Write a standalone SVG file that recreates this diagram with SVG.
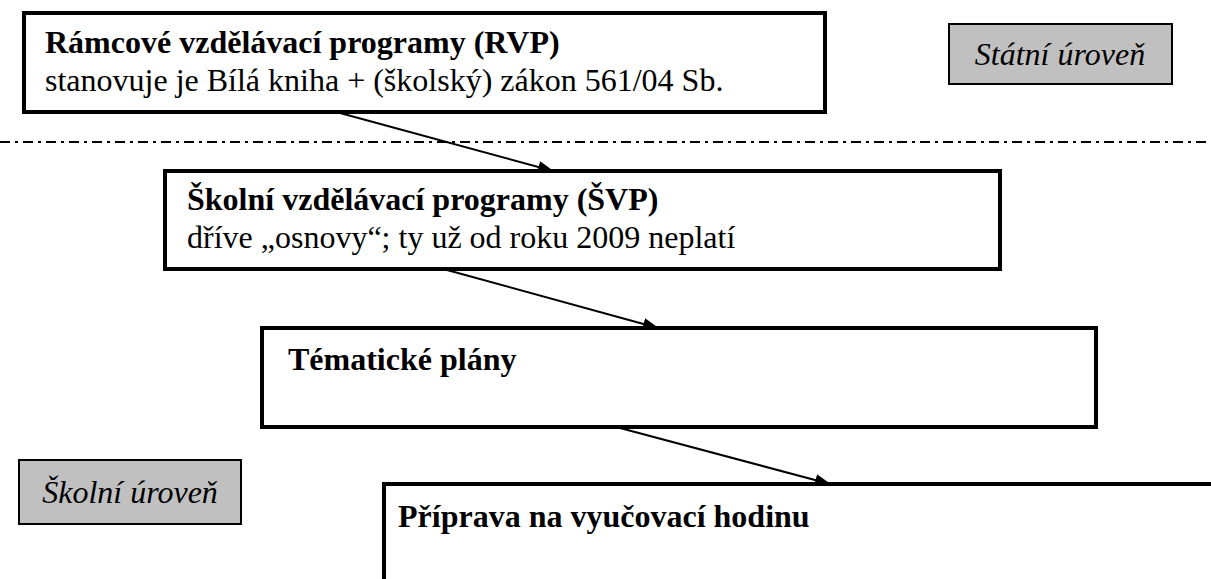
<svg xmlns="http://www.w3.org/2000/svg" width="1211" height="579" viewBox="0 0 1211 579">
  <defs>
    <style>
      .box { fill: #ffffff; stroke: #000000; stroke-width: 4; }
      .level { fill: #c0c0c0; stroke: #000000; stroke-width: 2; }
      .bold { font-family: "Liberation Serif", "Times New Roman", "DejaVu Serif", serif; font-weight: bold; font-size: 32px; fill: #000; }
      .reg { font-family: "Liberation Serif", "Times New Roman", "DejaVu Serif", serif; font-size: 32px; fill: #000; }
      .ital { font-family: "Liberation Serif", "Times New Roman", "DejaVu Serif", serif; font-style: italic; font-size: 32px; fill: #000; }
      .conn { stroke: #000; stroke-width: 2; fill: none; }
      .sep { stroke: #000; stroke-width: 2; stroke-dasharray: 10 5 3 5; fill: none; }
    </style>
    <marker id="arrow" markerWidth="16" markerHeight="12" refX="15" refY="6" orient="auto" markerUnits="userSpaceOnUse">
      <path d="M0,0 L16,6 L0,12 Z" fill="#000"/>
    </marker>
  </defs>
  <rect width="1211" height="579" fill="#ffffff"/>

  <line class="sep" x1="0" y1="142" x2="1211" y2="142"/>

  <g id="rvp">
    <rect class="box" x="24" y="13" width="801" height="99"/>
    <text class="bold" x="45" y="53">Rámcové vzdělávací programy (RVP)</text>
    <text class="reg" x="45" y="91">stanovuje je Bílá kniha + (školský) zákon 561/04 Sb.</text>
  </g>

  <g id="statni">
    <rect class="level" x="949" y="24" width="223" height="60"/>
    <text class="ital" x="1060" y="65" text-anchor="middle">Státní úroveň</text>
  </g>

  <g id="svp">
    <rect class="box" x="165" y="171" width="835" height="98"/>
    <text class="bold" x="187" y="210">Školní vzdělávací programy (ŠVP)</text>
    <text class="reg" x="187" y="248">dříve „osnovy“; ty už od roku 2009 neplatí</text>
  </g>

  <g id="tematicke">
    <rect class="box" x="262" y="328" width="834" height="99"/>
    <text class="bold" x="288" y="370">Tématické plány</text>
  </g>

  <g id="skolni">
    <rect class="level" x="19" y="460" width="222" height="64"/>
    <text class="ital" x="130" y="503" text-anchor="middle">Školní úroveň</text>
  </g>

  <g id="priprava">
    <rect class="box" x="384" y="484" width="900" height="150"/>
    <text class="bold" x="398" y="527">Příprava na vyučovací hodinu</text>
  </g>

  <g id="connectors">
    <line class="conn" x1="340" y1="113" x2="553" y2="171" marker-end="url(#arrow)"/>
    <line class="conn" x1="447" y1="270" x2="658" y2="328" marker-end="url(#arrow)"/>
    <line class="conn" x1="620" y1="428" x2="830" y2="484" marker-end="url(#arrow)"/>
  </g>
</svg>
